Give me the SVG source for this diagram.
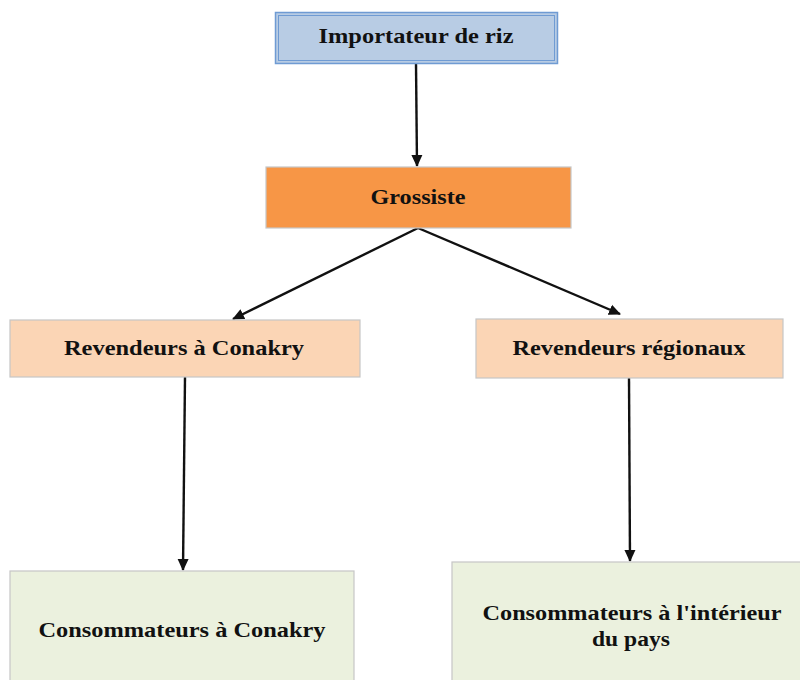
<svg xmlns="http://www.w3.org/2000/svg" width="800" height="680" viewBox="0 0 800 680">
<style>
.t{font-family:"Liberation Serif","Times New Roman",serif;font-weight:bold;font-size:22px;fill:#111;text-anchor:middle}
.box{stroke:#c6c6c6;stroke-width:1.2}
.c{stroke:#111;stroke-width:2.4;fill:none;marker-end:url(#ah)}
</style>
<defs>
<marker id="ah" markerWidth="12" markerHeight="12" refX="11" refY="6" orient="auto" markerUnits="userSpaceOnUse">
<path d="M0,0.5 L12,6 L0,11.5 Z" fill="#111"/>
</marker>
</defs>
<rect width="800" height="680" fill="#fff"/>
<g id="connectors">
<line class="c" x1="416" y1="64" x2="417" y2="166"/>
<line class="c" x1="418" y1="228" x2="233" y2="319"/>
<line class="c" x1="418" y1="228" x2="620" y2="314"/>
<line class="c" x1="185" y1="377" x2="183" y2="570"/>
<line class="c" x1="629" y1="378" x2="630" y2="561"/>
</g>
<g id="importateur">
<rect x="275.5" y="12.5" width="282" height="51" fill="#b8cce4" stroke="#6f9bd3" stroke-width="1.5"/>
<rect x="278.5" y="15.5" width="276" height="45" fill="none" stroke="#6f9bd3" stroke-width="1"/>
<text class="t" x="416" y="43" textLength="195" lengthAdjust="spacingAndGlyphs">Importateur de riz</text>
</g>
<g id="grossiste">
<rect class="box" x="266" y="167" width="305" height="61" fill="#f79646"/>
<text class="t" x="418" y="204" textLength="95" lengthAdjust="spacingAndGlyphs">Grossiste</text>
</g>
<g id="revendeurs-conakry">
<rect class="box" x="10" y="320" width="350" height="57" fill="#fbd5b5"/>
<text class="t" x="184" y="355" textLength="240" lengthAdjust="spacingAndGlyphs">Revendeurs à Conakry</text>
</g>
<g id="revendeurs-regionaux">
<rect class="box" x="476" y="319" width="307" height="59" fill="#fbd5b5"/>
<text class="t" x="629" y="355" textLength="233" lengthAdjust="spacingAndGlyphs">Revendeurs régionaux</text>
</g>
<g id="consommateurs-conakry">
<rect class="box" x="10" y="571" width="344" height="120" fill="#ebf1de"/>
<text class="t" x="182" y="637" textLength="287" lengthAdjust="spacingAndGlyphs">Consommateurs à Conakry</text>
</g>
<g id="consommateurs-interieur">
<rect class="box" x="452" y="562" width="360" height="130" fill="#ebf1de"/>
<text class="t" x="632" y="620" textLength="299" lengthAdjust="spacingAndGlyphs">Consommateurs à l'intérieur</text>
<text class="t" x="631" y="646" textLength="78" lengthAdjust="spacingAndGlyphs">du pays</text>
</g>
</svg>
